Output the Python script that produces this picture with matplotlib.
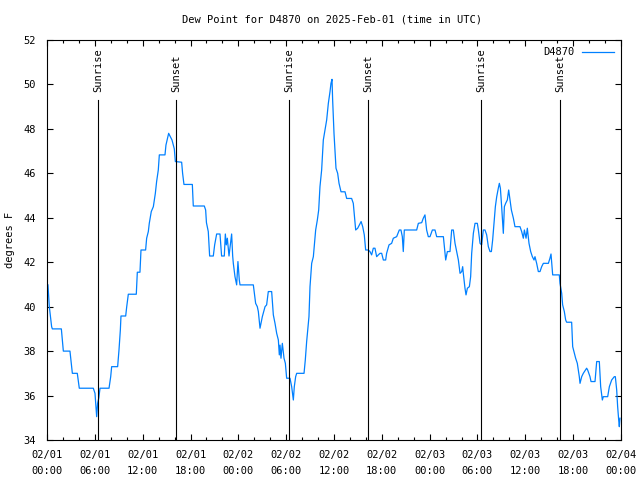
import matplotlib
matplotlib.use("Agg")
import matplotlib.pyplot as plt
from matplotlib.ticker import MultipleLocator

# hours since 2025-02-01 00:00 UTC
hours = [0.12, 0.29, 0.58, 0.67, 1.8, 2.05, 2.88, 3.18, 3.8, 4.05, 5.81, 6.02, 6.23, 6.35, 6.5, 6.65,
         7.78, 7.99, 8.11, 8.86, 9.03, 9.2, 9.28, 9.87, 10.0, 10.2, 11.2, 11.33, 11.66, 11.79, 12.37,
         12.5, 12.71, 12.83, 13.08, 13.34, 13.59, 13.75, 13.96, 14.09, 14.8, 14.92, 15.26, 15.68, 15.97,
         16.1, 16.89, 17.01, 17.18, 18.23, 18.35, 19.73, 19.9, 20.0, 20.23, 20.4, 20.86, 21.03, 21.28,
         21.7, 21.9, 22.24, 22.37, 22.49, 22.62, 22.83, 23.16, 23.29, 23.37, 23.58, 23.79, 23.95, 24.12,
         24.21, 25.88, 26.01, 26.17, 26.38, 26.51, 26.72, 26.84, 27.01, 27.35, 27.55, 27.76, 28.18,
         28.39, 28.6, 28.81, 29.02, 29.14, 29.23, 29.35, 29.52, 29.73, 29.9, 30.06, 30.48, 30.69, 30.9,
         31.02, 31.19, 31.32, 32.24, 32.4, 32.57, 32.86, 32.99, 33.2, 33.41, 33.7, 33.91, 34.08, 34.24,
         34.45, 34.66, 34.87, 35.08, 35.29, 35.5, 35.62, 35.75, 35.83, 36.0, 36.25, 36.46, 36.63, 36.88,
         37.38, 37.59, 38.21, 38.42, 38.55, 38.72, 38.97, 39.4, 39.6, 39.8, 39.97, 40.3, 40.51, 40.72,
         40.93, 41.14, 41.35, 41.56, 41.77, 41.98, 42.19, 42.48, 42.6, 42.9, 43.23, 43.44, 43.86, 44.19,
         44.4, 44.57, 44.69, 44.82, 46.37, 46.58, 47.0, 47.2, 47.41, 47.62, 47.83,
         48.04, 48.34, 48.67, 48.88, 49.72, 49.93, 50.01, 50.22, 50.55, 50.76, 50.97, 51.18, 51.39,
         51.6, 51.81, 52.02, 52.14, 52.22, 52.43, 52.56, 52.73, 52.98, 53.14, 53.27, 53.48, 53.69,
         53.98, 54.11, 54.32, 54.52, 54.73, 54.94, 55.15, 55.36, 55.57, 55.74, 55.9, 56.07, 56.24,
         56.41, 56.61, 56.74, 56.87, 57.03, 57.24, 57.37, 57.53, 57.74, 57.91, 58.08, 58.25, 58.5,
         58.7, 59.33, 59.54, 59.75, 59.88, 60.09, 60.25, 60.46, 60.67, 60.88, 61.09, 61.21, 61.42,
         61.63, 61.84, 62.05, 62.26, 62.89, 63.09, 63.22, 63.43, 64.26, 64.35, 64.56, 64.68, 64.89,
         65.06, 65.18, 65.81, 65.94, 66.1, 66.31, 66.52, 66.77, 66.86, 67.07, 67.27, 67.69, 67.82,
         68.11, 68.24, 68.74, 68.95, 69.28, 69.45, 69.66, 69.78, 70.33, 70.54, 70.83, 71.16, 71.29,
         71.46, 71.58, 71.71, 71.79, 71.87]

dewpoint = [40.98, 40.0, 39.1, 39.0, 39.0, 38.0, 38.0, 37.0, 37.0, 36.33, 36.33, 36.1, 35.05, 35.65, 35.9, 36.33,
            36.33, 36.85, 37.3, 37.3, 38.05, 38.95, 39.58, 39.58, 40.0, 40.56, 40.56, 41.55, 41.55, 42.55, 42.55,
            43.08, 43.38, 43.75, 44.28, 44.5, 45.1, 45.63, 46.15, 46.83, 46.83, 47.27, 47.8, 47.5, 47.1,
            46.53, 46.5, 46.0, 45.5, 45.5, 44.53, 44.53, 44.35, 43.78, 43.38, 42.28, 42.28, 42.78, 43.27,
            43.27, 42.28, 42.28, 43.27, 42.78, 43.08, 42.28, 43.27, 42.28, 41.95, 41.35, 40.98, 42.03, 41.2,
            40.98, 40.98, 40.6, 40.15, 40.0, 39.78, 39.03, 39.25, 39.55, 40.0, 40.08, 40.68, 40.68,
            39.63, 39.25, 38.8, 38.5, 37.83, 38.27, 37.68, 38.35, 37.68, 37.45, 36.78, 36.78, 36.4, 35.8,
            36.4, 36.85, 37.0, 37.0, 37.6, 38.43, 39.55, 40.9, 41.95, 42.25, 43.45, 43.9, 44.35, 45.4,
            46.15, 47.5, 47.95, 48.4, 49.15, 49.68, 50.05, 50.23, 49.3, 47.8, 46.23, 46.0, 45.55, 45.17,
            45.17, 44.87, 44.87, 44.65, 44.13, 43.45, 43.53, 43.83, 43.6, 43.23, 42.55, 42.55, 42.48, 42.33,
            42.63, 42.63, 42.25, 42.33, 42.4, 42.4, 42.1, 42.1, 42.4, 42.78, 42.85, 43.08, 43.15, 43.45,
            43.45, 43.15, 42.48, 43.45, 43.45, 43.75, 43.78, 43.98, 44.13, 43.45, 43.15,
            43.15, 43.45, 43.45, 43.15, 43.15, 42.4, 42.1, 42.48, 42.48, 43.45, 43.45, 42.85, 42.48,
            42.1, 41.5, 41.58, 41.8, 41.5, 40.83, 40.53, 40.83, 40.9, 41.35, 42.4, 43.3, 43.75,
            43.75, 43.45, 42.85, 42.78, 43.45, 43.45, 43.23, 42.7, 42.48, 42.48, 43.0, 43.75, 44.5,
            44.95, 45.33, 45.55, 45.33, 44.5, 43.3, 44.5, 44.65, 44.8, 45.25, 44.8, 44.35, 43.98,
            43.6, 43.6, 43.38, 43.08, 43.45, 43.08, 43.53, 42.85, 42.48, 42.25, 42.1, 42.25, 41.95,
            41.58, 41.58, 41.8, 41.95, 41.95, 42.18, 42.37, 41.43, 41.43, 41.05, 40.6, 40.08, 39.78,
            39.4, 39.3, 39.3, 38.2, 37.98, 37.68, 37.45, 36.85, 36.55, 36.85, 37.0, 37.23, 37.15,
            36.85, 36.63, 36.63, 37.53, 37.53, 36.4, 35.8, 35.95, 35.95, 36.4, 36.7, 36.85, 36.85,
            36.25, 35.5, 34.9, 34.6, 34.98]

sun_events = ["Sunrise", "Sunset", "Sunrise", "Sunset", "Sunrise", "Sunset"]
sun_hours = [6.44, 16.18, 30.4, 40.3, 54.48, 64.39]

x_ticks = [0, 6, 12, 18, 24, 30, 36, 42, 48, 54, 60, 66, 72]
x_ticklabels = ["02/01\n00:00", "02/01\n06:00", "02/01\n12:00", "02/01\n18:00",
                "02/02\n00:00", "02/02\n06:00", "02/02\n12:00", "02/02\n18:00",
                "02/03\n00:00", "02/03\n06:00", "02/03\n12:00", "02/03\n18:00",
                "02/04\n00:00"]
y_ticks = [34, 36, 38, 40, 42, 44, 46, 48, 50, 52]

plt.rcParams['font.family'] = ['DejaVu Sans Mono']
plt.rcParams['font.size'] = 7

fig = plt.figure(figsize=(6.4, 4.8), dpi=100)
ax = fig.add_axes([47/640, 40/480, 574/640, 400/480])

ax.plot(hours, dewpoint, color='#0080ff', linewidth=0.9, label='D4870')

for name, h in zip(sun_events, sun_hours):
    ax.plot([h, h], [34, 49.3], color='black', linewidth=0.8)
    ax.text(h, 49.66, name, rotation=90, ha='center', va='bottom', fontsize=7.5)

ax.set_xlim(0, 72)
ax.set_ylim(34, 52)
ax.set_xticks(x_ticks)
ax.set_xticklabels(x_ticklabels, linespacing=1.75)
ax.xaxis.set_minor_locator(MultipleLocator(2))
ax.set_yticks(y_ticks)
ax.tick_params(axis='both', which='major', direction='in', length=4, width=0.8,
               top=True, right=True, labelsize=7.5, pad=7)
ax.tick_params(axis='x', which='minor', direction='in', length=2.5, width=0.8, top=True)
ax.tick_params(axis='y', pad=8)
for s in ax.spines.values():
    s.set_linewidth(0.8)

ax.set_ylabel('degrees F', fontsize=7.5, labelpad=6)
fig.text(332/640, 1 - 20/480, 'Dew Point for D4870 on 2025-Feb-01 (time in UTC)',
         ha='center', va='center', fontsize=7.5)

leg = ax.legend(loc='upper right', frameon=False, fontsize=7.5, handlelength=3.0,
                handletextpad=0.8, markerfirst=False, borderaxespad=0.3)

fig.savefig('out.png', dpi=100)
